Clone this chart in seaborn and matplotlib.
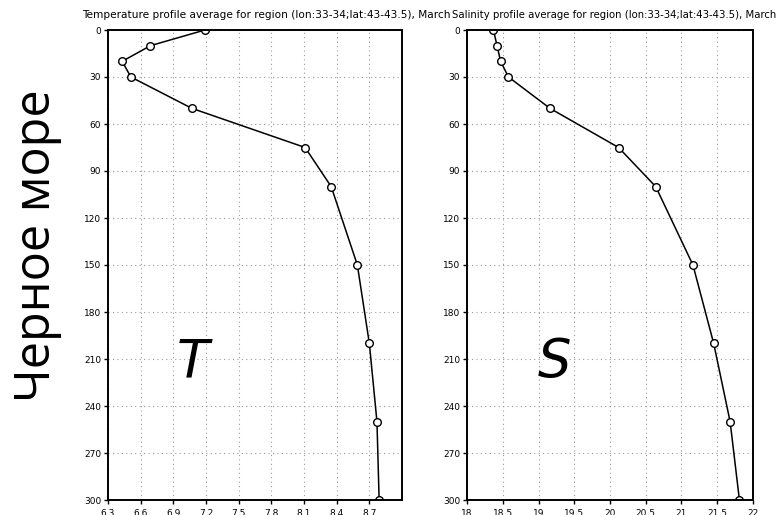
import matplotlib
matplotlib.use("Agg")
import matplotlib.pyplot as plt
import seaborn as sns

# profile data
depth = [0, 10, 20, 30, 50, 75, 100, 150, 200, 250, 300]
temperature = [7.19, 6.69, 6.43, 6.51, 7.07, 8.11, 8.35, 8.59, 8.70, 8.77, 8.79]
salinity = [18.37, 18.42, 18.47, 18.58, 19.16, 20.12, 20.64, 21.16, 21.45, 21.68, 21.81]

temp_ticks = [6.3, 6.6, 6.9, 7.2, 7.5, 7.8, 8.1, 8.4, 8.7]
sal_ticks = [18, 18.5, 19, 19.5, 20, 20.5, 21, 21.5, 22]
depth_ticks = list(range(0, 301, 30))

title_t = "Temperature profile average for region (lon:33-34;lat:43-43.5), March"
title_s = "Salinity profile average for region (lon:33-34;lat:43-43.5), March"

sns.set_style("white")
plt.rcParams["text.color"] = "black"

fig = plt.figure(figsize=(7.8, 5.15), dpi=100)
ax1 = fig.add_axes([108 / 780, 15 / 515, 294 / 780, 470 / 515])
ax2 = fig.add_axes([467 / 780, 15 / 515, 286 / 780, 470 / 515])


def profile(ax, xs, xlim, xticks, xlabels):
    sns.lineplot(x=xs, y=depth, sort=False, ax=ax, color="black", linewidth=1.1,
                 marker="o", markersize=5.5, markerfacecolor="white",
                 markeredgecolor="black", markeredgewidth=1.0)
    ax.set_xlim(*xlim)
    ax.set_ylim(300, 0)
    ax.set_xticks(xticks)
    ax.set_xticklabels(xlabels, fontsize=6.5)
    ax.set_yticks(depth_ticks)
    ax.set_yticklabels([str(d) for d in depth_ticks], fontsize=6.5)
    ax.grid(True, linestyle=(0, (1, 3)), color="#9a9a9a", linewidth=0.8)
    ax.tick_params(axis="both", direction="out", length=3, width=1, pad=2,
                   left=True, bottom=True, colors="black", labelcolor="black")
    ax.tick_params(axis="x", pad=3.5)
    for sp in ax.spines.values():
        sp.set_color("black")
        sp.set_linewidth(1.4)
    ax.set_xlabel("")
    ax.set_ylabel("")


profile(ax1, temperature, (6.3, 9.0), temp_ticks, [f"{t:.1f}" for t in temp_ticks])
profile(ax2, salinity, (18, 22), sal_ticks, [f"{t:g}" for t in sal_ticks])

fig.text(451 / 780, 1 - 15 / 515, title_t, ha="right", va="center",
         fontsize=7.6, color="black")
fig.text(452 / 780, 1 - 15 / 515, title_s, ha="left", va="center",
         fontsize=7.3, color="black")

fig.text(193 / 780, 1 - 362 / 515, "T", ha="center", va="center",
         fontsize=38, style="italic", color="black")
fig.text(554 / 780, 1 - 362 / 515, "S", ha="center", va="center",
         fontsize=38, style="italic", color="black")

fig.text(37 / 780, 1 - 246 / 515, "Черное море", rotation=90, ha="center",
         va="center", family=["Open Sans", "DejaVu Sans"], fontsize=35,
         color="black")

fig.savefig("out.png", dpi=100, facecolor="white")
